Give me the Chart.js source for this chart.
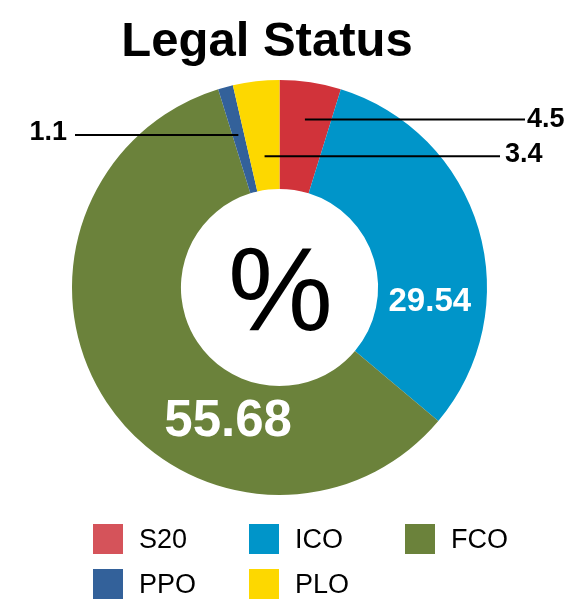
<!DOCTYPE html>
<html>
<head>
<meta charset="utf-8">
<script src="https://cdn.jsdelivr.net/npm/chart.js@4/dist/chart.umd.min.js"></script>
<style>
  html, body { margin: 0; padding: 0; background: #fff; }
  #wrap { width: 576px; height: 601px; }
</style>
</head>
<body>
<div id="wrap"><canvas id="chart" width="576" height="601"></canvas></div>
<script>
// Data (shares are percentages; they do not sum to 100)
const categories = ['S20', 'ICO', 'FCO', 'PPO', 'PLO'];
const shares = [4.5, 29.54, 55.68, 1.1, 3.4];
const sliceColors = ['#d1333a', '#0095c9', '#6b823b', '#33619a', '#fdd800'];
const legendColors = ['#d5535a', '#0095c9', '#6b823b', '#33619a', '#fdd800'];
const valueLabels = ['4.5', '29.54', '55.68', '1.1', '3.4'];

const FONT = '"Liberation Sans", Arial, Helvetica, sans-serif';

// Where each value label goes: inside the ring, or out on a leader line
const labelStyle = [
  { kind: 'leader', r: 170, endX: 525, textX: 527, align: 'left', dy: 0 },
  { kind: 'inside', angle: 95.5, r: 151, size: 33 },
  { kind: 'inside', angle: 200.9, r: 144, size: 51 },
  { kind: 'leader', r: 158, endX: 75, textX: 67, align: 'right', dy: -2 },
  { kind: 'leader', r: 132, endX: 500, textX: 505, align: 'left', dy: -2 }
];

/**
 * Draws title, centre sign, value labels and legend
 */
const decorations = {
  id: 'decorations',
  afterDraw(chart) {
    const ctx = chart.ctx;
    const arcs = chart.getDatasetMeta(0).data;
    const cx = arcs[0].x;
    const cy = arcs[0].y;

    ctx.save();

    // Title
    ctx.fillStyle = '#000';
    ctx.font = 'bold 49px ' + FONT;
    ctx.textAlign = 'center';
    ctx.textBaseline = 'alphabetic';
    ctx.fillText('Legal Status', 267, 56);

    // Centre percent sign
    ctx.font = '118px ' + FONT;
    ctx.fillText('%', cx + 1, 330);

    // Value labels
    arcs.forEach((arc, i) => {
      const st = labelStyle[i];
      const { startAngle, endAngle } = arc.getProps(['startAngle', 'endAngle'], true);
      if (st.kind === 'inside') {
        const a = (st.angle - 90) * Math.PI / 180;
        ctx.fillStyle = '#fff';
        ctx.font = 'bold ' + st.size + 'px ' + FONT;
        ctx.textAlign = 'center';
        ctx.textBaseline = 'middle';
        ctx.fillText(valueLabels[i], cx + Math.cos(a) * st.r, cy + Math.sin(a) * st.r);
      } else {
        const mid = (startAngle + endAngle) / 2;
        const x0 = cx + Math.cos(mid) * st.r;
        const y0 = cy + Math.sin(mid) * st.r;
        ctx.strokeStyle = '#000';
        ctx.lineWidth = 2;
        ctx.beginPath();
        ctx.moveTo(x0, y0);
        ctx.lineTo(st.endX, y0);
        ctx.stroke();
        ctx.fillStyle = '#000';
        ctx.font = 'bold 27px ' + FONT;
        ctx.textAlign = st.align;
        ctx.textBaseline = 'middle';
        ctx.fillText(valueLabels[i], st.textX, y0 + st.dy);
      }
    });

    // Legend: three per row, left aligned columns
    const colX = [93, 249, 405];
    const rowY = [524, 569];
    ctx.font = '27px ' + FONT;
    ctx.textAlign = 'left';
    ctx.textBaseline = 'middle';
    categories.forEach((name, i) => {
      const x = colX[i % 3];
      const y = rowY[Math.floor(i / 3)];
      ctx.fillStyle = legendColors[i];
      ctx.fillRect(x, y, 30, 30);
      ctx.fillStyle = '#000';
      ctx.fillText(name, x + 46, y + 17);
    });

    ctx.restore();
  }
};

new Chart(document.getElementById('chart'), {
  type: 'doughnut',
  data: {
    labels: categories,
    datasets: [{
      data: shares,
      backgroundColor: sliceColors,
      borderWidth: 0,
      hoverOffset: 0
    }]
  },
  options: {
    responsive: false,
    animation: false,
    cutout: '47.5%',
    layout: {
      padding: { left: 72, right: 89, top: 80, bottom: 106 }
    },
    plugins: {
      legend: { display: false },
      title: { display: false },
      tooltip: { enabled: false }
    }
  },
  plugins: [decorations]
});
</script>
</body>
</html>
